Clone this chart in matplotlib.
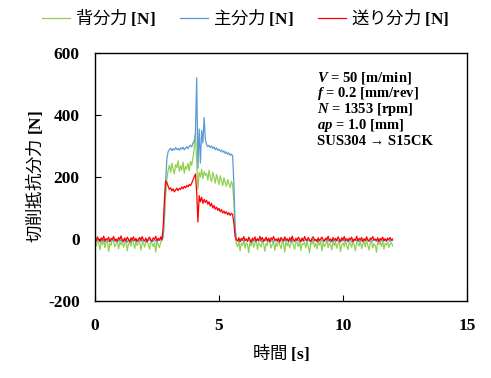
import numpy as np
import matplotlib
matplotlib.use("Agg")
import matplotlib.pyplot as plt

plt.rcParams['font.family'] = ['Noto Sans CJK JP', 'DejaVu Sans']
plt.rcParams['mathtext.fontset'] = 'custom'
plt.rcParams['mathtext.rm'] = 'Liberation Serif:bold'
plt.rcParams['mathtext.bf'] = 'Liberation Serif:bold'
plt.rcParams['mathtext.it'] = 'Liberation Serif:italic:bold'
plt.rcParams['axes.unicode_minus'] = False

# sampling every 0.05 s, 0 .. 12 s
time = np.round(np.arange(0, 241) * 0.05, 2)

# 背分力 (thrust force)
thrust = [
    -10, -22, -4, -15, -35, -8, -18, -2, -28, -12, -6, -40, -14, -20, 2, -9, -25, -16, -5, -32,
    -11, -19, -3, -27, -13, -7, -38, -17, -10, -23, 0, -14, -30, -8, -21, -12, -4, -36, -16, -9,
    -26, -13, -2, -19, -33, -7, -15, -24, -11, -42, -6, -18, -28, -10, -3,
    5, 60, 140, 195, 222,
    238, 215, 245, 226, 210, 240, 230, 252, 218, 236, 222, 248, 212, 234, 226, 244, 220, 250, 238, 262,
    290, 340, 250, 160, 215, 200, 225, 195, 218, 205,
    212, 190, 222, 198, 185, 215, 200, 180, 208, 192, 176, 204, 188, 172, 198, 182, 170, 192, 178, 166,
    186, 174,
    120, 20, -15,
    -25, -8, -38, -14, -20, -4, -30, -12, -18, -44, -9, -22, -2, -27, -15, -6, -34, -11, -19, -26,
    -5, -16, -40, -13, -21, 3, -10, -29, -17, -7, -36, -12, -24, -3, -19, -31, -9, -14, -42, -6,
    -22, -11, -28, -16, 0, -20, -33, -8, -13, -25, -4, -37, -15, -18, -10, -29, -6, -23, -45, -12,
    -17, -2, -26, -14, -32, -9, -20, -7, -39, -11, -24, -16, 1, -28, -13, -19, -35, -5, -21, -10,
    -30, -15, -8, -41, -18, -12, -25, -3, -22, -34, -9, -16, -27, -6, -19, -38, -11, -14, -23, -4,
    -31, -17, -10, -26, -2, -20, -36, -13, -8, -29, -15, -21, -43, -7, -18, -12, -24, -5, -33, -14,
    -20, -9, -27, -16, -11, -22,
]

# 主分力 (principal force)
principal = [
    -3, -7, 0, -5, -9, -2, -6, -4, -10, -1, -5, -8, -3, -6, 1, -7, -4, -9, -2, -5,
    -8, -3, -6, 0, -7, -4, -11, -2, -5, -8, -1, -6, -3, -9, -4, -7, 0, -5, -8, -2,
    -6, -10, -3, -5, -1, -7, -4, -8, -2, -6, -9, -3, -5, -1, -4,
    10, 90, 190, 260, 282,
    288, 293, 285, 291, 287, 295, 289, 292, 286, 294, 290, 296, 288, 293, 298, 291, 299, 302, 297, 310,
    315, 340, 520, 228, 355, 245, 350, 310, 392, 320,
    305, 298, 302, 295, 300, 292, 297, 288, 294, 286, 290, 283, 287, 280, 284, 276, 281, 273, 278, 270,
    274, 268,
    180, 40, -2,
    -4, -8, -1, -6, -3, -9, -5, 0, -7, -2, -6, -10, -3, -5, -8, -1, -4, -7, -2, -9,
    -5, -3, -6, 1, -8, -4, -2, -7, -5, -10, -3, -6, 0, -4, -8, -2, -5, -9, -1, -6,
    -3, -7, -4, -11, -2, -5, -8, 0, -6, -3, -9, -4, -1, -7, -5, -2, -8, -3, -6, -10,
    -1, -4, -7, -2, -5, -9, -3, 0, -6, -8, -4, -1, -5, -7, -2, -10, -3, -6, -4, -8,
    -1, -5, -9, -2, -6, -3, -7, 0, -4, -8, -5, -2, -10, -3, -6, -1, -7, -4, -9, -2,
    -5, -8, -3, -6, 0, -4, -7, -2, -9, -5, -1, -6, -3, -8, -4, -10, -2, -5, -7, -3,
    -6, -1, -4, -8, -2, -5,
]

# 送り分力 (feed force)
feed = [
    3, -5, 7, -2, -8, 4, -4, 9, -6, 1, -3, 6, -9, 2, -1, 8, -5, 0, -7, 5,
    -2, 10, -4, -8, 3, -6, 6, -1, -10, 4, -3, 7, -5, 2, -8, 0, 5, -4, 8, -2,
    -6, 3, -9, 1, 6, -3, -7, 4, -1, 9, -5, 2, -4, 7, -2,
    40, 130, 187, 182, 170,
    160, 165, 155, 162, 152, 158, 164, 156, 163, 160, 168, 162, 170, 165, 173, 168, 176, 172, 180, 190,
    200, 210, 150, 55, 140, 120, 135, 115, 128, 118,
    125, 112, 120, 106, 115, 100, 108, 96, 103, 92, 99, 88, 95, 84, 90, 82, 88, 78, 85, 76,
    83, 79,
    50, 8, -3,
    -6, 4, -9, 2, -3, 8, -5, 0, -8, 6, -2, -10, 3, -4, 7, -7, 1, -5, 9, -3,
    5, -8, -1, 6, -6, 2, -9, 4, -2, 8, -4, 0, -7, 3, -10, 5, -1, -6, 7, -3,
    1, -8, 4, -5, 9, -2, -7, 2, -4, 6, 0, -9, 3, -6, 8, -1, -5, 5, -3, -8,
    2, 7, -4, -1, -9, 4, -6, 1, 6, -3, -7, 3, -2, 9, -5, 0, -8, 5, -4, 2,
    -6, 7, -1, -9, 4, -3, 8, -5, 1, -7, 3, -2, 6, -8, 0, -4, 9, -6, 2, -3,
    5, -9, 1, -5, 7, -2, -7, 3, -1, 8, -4, 0, -6, 4, -8, 2, -3, 6, -5, 1,
    -7, 3, -2, 5, -4, 0,
]

conditions = [
    r"$\mathit{V}$ = 50 [m/min]",
    r"$\mathit{f}$ = 0.2 [mm/rev]",
    r"$\mathit{N}$ = 1353 [rpm]",
    r"$\mathit{ap}$ = 1.0 [mm]",
    "SUS304 → S15CK",
]

fig = plt.figure(figsize=(4.91, 3.78), dpi=100)
ax = fig.add_axes([95 / 491, 1 - 301 / 378, 372 / 491, 248 / 378])

ax.plot(time, thrust, color='#92d050', lw=0.9, label=r"背分力 $\mathbf{[N]}$")
ax.plot(time, principal, color='#5b9bd5', lw=0.9, label=r"主分力 $\mathbf{[N]}$")
ax.plot(time, feed, color='#ff0000', lw=0.9, label=r"送り分力 $\mathbf{[N]}$")

ax.set_xlim(0, 15)
ax.set_ylim(-200, 600)
ax.set_xticks([0, 5, 10, 15])
ax.set_yticks([-200, 0, 200, 400, 600])
ax.tick_params(axis='y', direction='in', length=4, width=0.8, pad=11)
ax.tick_params(axis='x', direction='in', length=4, width=0.8, pad=12)
for lab in ax.get_xticklabels() + ax.get_yticklabels():
    lab.set_fontfamily('Liberation Serif')
    lab.set_fontweight('bold')
    lab.set_fontsize(12.5)
for s in ax.spines.values():
    s.set_linewidth(1.0)
    s.set_color('black')

ax.set_xlabel(r"時間 $\mathbf{[s]}$", fontsize=12.5, labelpad=6)
ax.set_ylabel(r"切削抵抗分力 $\mathbf{[N]}$", fontsize=12.5, labelpad=2)

for i, line in enumerate(conditions):
    fig.text(317 / 491, 1 - (78 + 16 * i) / 378, line, fontsize=10.5, fontweight='bold',
             family=['Liberation Serif', 'DejaVu Serif'], va='center', ha='left')

fig.legend(loc='center', bbox_to_anchor=(0.5, 1 - 18 / 378), ncol=3, frameon=False,
           fontsize=12.5, handlelength=1.6, handletextpad=0.3, columnspacing=1.4)

fig.savefig("out.png", dpi=100)
